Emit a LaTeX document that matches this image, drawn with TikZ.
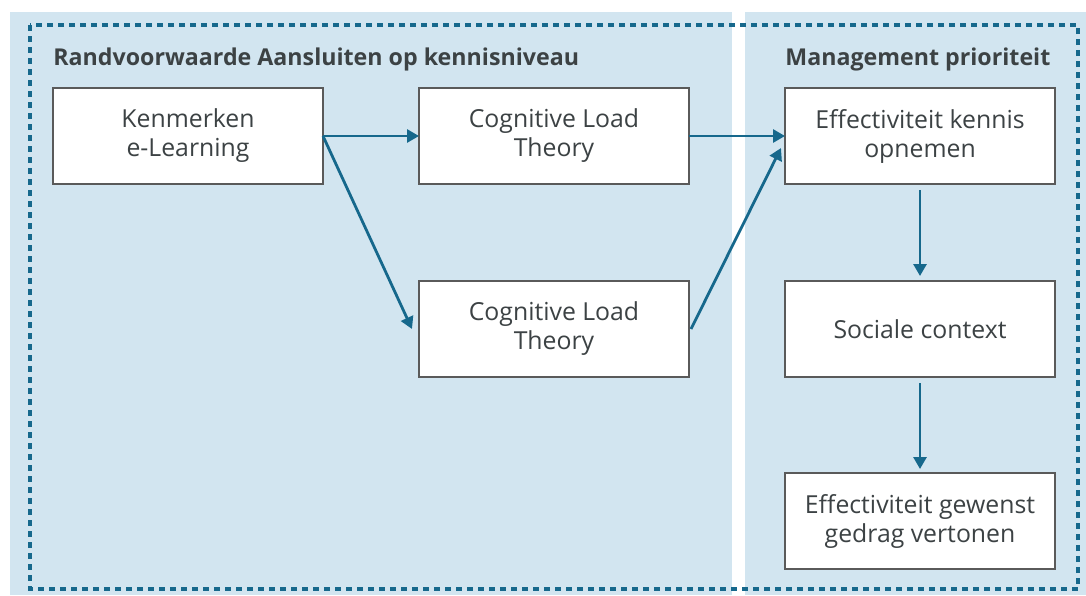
\documentclass[tikz,border=0pt]{standalone}
\usepackage{fontspec}
\setmainfont{Open Sans}
\usepackage{tikz}
\usetikzlibrary{arrows.meta}
\usetikzlibrary{positioning}

\definecolor{panelblue}{RGB}{210,229,240}
\definecolor{linkblue}{RGB}{22,104,140}
\definecolor{boxgray}{RGB}{90,90,90}
\definecolor{textgray}{RGB}{60,66,68}

\begin{document}
\begin{tikzpicture}[x=0.5pt, y=-0.5pt,
        box/.style={draw=boxgray, line width=0.9pt, fill=white, minimum width=135pt, minimum height=48pt,
            outer sep=0pt, align=center, text=textgray, font=\fontsize{12.4}{14.5}\selectfont, inner sep=0pt},
        link/.style={draw=linkblue, line width=1.4pt, -{Triangle[length=6pt,width=6.5pt]}},
        paneltitle/.style={anchor=base west, text=textgray, font=\fontsize{11.6}{13}\selectfont\bfseries, inner sep=0pt}]
        \useasboundingbox (0,0) rectangle (1086,595);
        \fill[panelblue] (10,12) rectangle (732,595);
        \fill[panelblue] (745,12) rectangle (1086,595);
        \draw[linkblue, line width=1.6pt, dash pattern=on 3pt off 2.5pt] (30,25) rectangle (1078,589);

        \node[paneltitle] (randvoorwaarde) at (53,65) {Randvoorwaarde Aansluiten op kennisniveau};
        \node[paneltitle] (management) at (785,65) {Management prioriteit};

        \node[box, anchor=north west] (kenmerken) at (53,88) {Kenmerken\\e-Learning};
        \node[box, right=48pt of kenmerken] (cltA) {Cognitive Load\\Theory};
        \node[box, below=48.5pt of cltA] (cltB) {Cognitive Load\\Theory};
        \node[box, right=48pt of cltA] (kennis) {Effectiviteit kennis\\opnemen};
        \node[box, below=48.5pt of kennis] (sociaal) {Sociale context};
        \node[box, below=48pt of sociaal] (gedrag) {Effectiviteit gewenst\\gedrag vertonen};

        \draw[link] (kenmerken.east) -- (cltA.west);
        \draw[link] (kenmerken.east) -- ([xshift=-3.5pt]cltB.west);
        \draw[link] (cltA.east) -- (kennis.west);
        \draw[link] ([xshift=1pt]cltB.east) -- ([xshift=-2pt,yshift=-6pt]kennis.west);
        \draw[link] ([yshift=-3pt]kennis.south) -- ([yshift=2.5pt]sociaal.north);
        \draw[link] ([yshift=-3pt]sociaal.south) -- ([yshift=2pt]gedrag.north);
\end{tikzpicture}
\end{document}
